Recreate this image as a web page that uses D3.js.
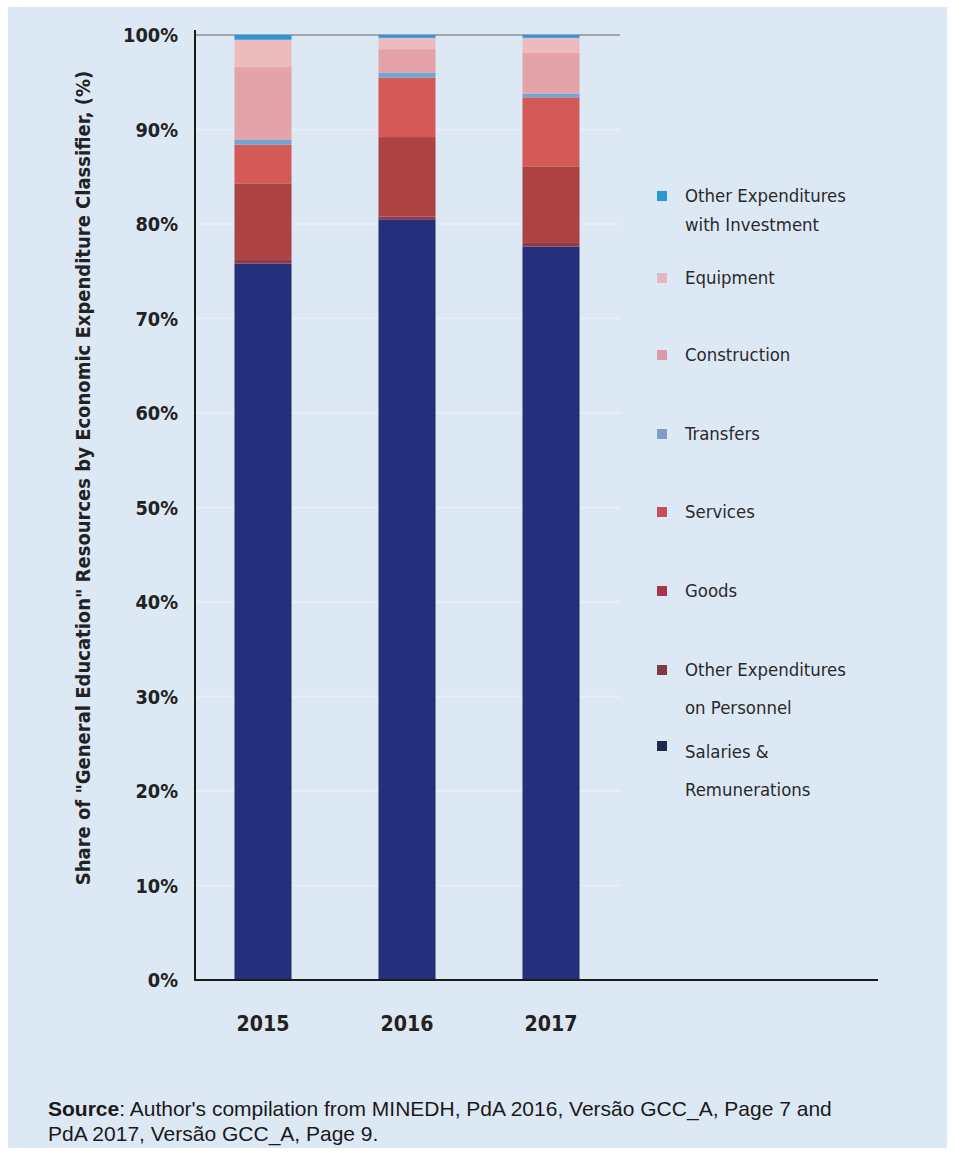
<!DOCTYPE html>
<html><head><meta charset="utf-8">
<script src="https://cdn.jsdelivr.net/npm/d3@7"></script>
<style>body{margin:0;background:#fff} .cond{font-stretch:condensed}</style>
</head><body>
<script>
const years = ["2015", "2016", "2017"];
const seriesNames = ["Salaries & Remunerations","Other Expenditures on Personnel","Goods","Services","Transfers","Construction","Equipment","Other Expenditures with Investment"];
const salaries = [75.8, 80.5, 77.6];
const otherPersonnel = [0.4, 0.3, 0.4];
const goods = [8.1, 8.4, 8.1];
const services = [4.1, 6.3, 7.3];
const transfers = [0.5, 0.5, 0.4];
const construction = [7.7, 2.5, 4.3];
const equipment = [2.9, 1.2, 1.6];
const otherInvestment = [0.5, 0.3, 0.3];
const yTicks = [0,10,20,30,40,50,60,70,80,90,100];
const legendLines = [["Other Expenditures","with Investment"],["Equipment"],["Construction"],["Transfers"],["Services"],["Goods"],["Other Expenditures","on Personnel"],["Salaries &","Remunerations"]];
const colors = ["#25307a","#8e3a48","#ad4243","#d45a57","#6fa6d8","#e3a3a8","#ecbcbc","#2a98d6"];
const legendColors = ["#2a98d6","#e6b7c3","#d99aaa","#7e9cc6","#c84a5e","#a83450","#7e3a48","#1e2b4e"];

const W = 955, H = 1155;
const svg = d3.select("body").append("svg").attr("width", W).attr("height", H);
svg.append("rect").attr("x",0).attr("y",0).attr("width",W).attr("height",H).attr("fill","#fff");
svg.append("rect").attr("x",8).attr("y",7).attr("width",939).attr("height",1141).attr("fill","#dde8f5");

const cond = "'DejaVu Sans Condensed','DejaVu Sans',sans-serif";

const x = d3.scaleBand().domain(years).range([191, 623]).paddingInner(0.604).paddingOuter(0.302);
const y = d3.scaleLinear().domain([0, 100]).range([980, 35]);

// gridlines
svg.append("g").selectAll("line").data(yTicks.filter(t => t > 0 && t < 100)).join("line")
  .attr("x1", 195).attr("x2", 620).attr("y1", d => y(d)).attr("y2", d => y(d))
  .attr("stroke", "#e9f0f8").attr("stroke-width", 1.5);
svg.append("line").attr("x1",195).attr("x2",620).attr("y1",y(100)).attr("y2",y(100))
  .attr("stroke","#8a9098").attr("stroke-width",1.5);

// stacked data
const table = years.map((yr, i) => ({
  year: yr,
  [seriesNames[0]]: salaries[i],
  [seriesNames[1]]: otherPersonnel[i],
  [seriesNames[2]]: goods[i],
  [seriesNames[3]]: services[i],
  [seriesNames[4]]: transfers[i],
  [seriesNames[5]]: construction[i],
  [seriesNames[6]]: equipment[i],
  [seriesNames[7]]: otherInvestment[i]
}));
const stack = d3.stack().keys(seriesNames)(table);
const color = d3.scaleOrdinal().domain(seriesNames).range(colors);

svg.append("g").selectAll("g").data(stack).join("g").attr("fill", d => color(d.key))
  .selectAll("rect").data(d => d).join("rect")
  .attr("x", d => x(d.data.year)).attr("width", x.bandwidth())
  .attr("y", d => y(d[1])).attr("height", d => y(d[0]) - y(d[1]));

// axes
const yAxis = d3.axisLeft(y).tickValues(yTicks).tickFormat(d => d + "%").tickSize(0).tickPadding(17);
const gy = svg.append("g").attr("transform", "translate(195,0)").call(yAxis);
gy.select(".domain").remove();
gy.selectAll("text").attr("class","cond").attr("font-family", cond).attr("font-weight", "bold").attr("font-size", 20).attr("fill", "#222").attr("dy","0.35em");
{
  const t = gy.selectAll("text").filter(d => d === 100).node();
  const w = t.getComputedTextLength();
  gy.selectAll("text").attr("font-size", 20 * 55 / w);
}

const xAxis = d3.axisBottom(x).tickSize(0).tickPadding(36);
const gx = svg.append("g").attr("transform", "translate(0,980)").call(xAxis);
gx.select(".domain").remove();
gx.selectAll("text").attr("class","cond").attr("font-family", cond).attr("font-weight", "bold").attr("font-size", 21).attr("fill", "#222");
{
  const w = gx.select("text").node().getComputedTextLength();
  gx.selectAll("text").attr("font-size", 21 * 53 / w);
}

svg.append("line").attr("x1",195).attr("x2",195).attr("y1",30).attr("y2",981).attr("stroke","#1a1a1a").attr("stroke-width",2);
svg.append("line").attr("x1",194).attr("x2",878).attr("y1",980).attr("y2",980).attr("stroke","#1a1a1a").attr("stroke-width",2);

// y title
const yt = svg.append("text").attr("class","cond").attr("transform","translate(90,478) rotate(-90)")
  .attr("text-anchor","middle").attr("font-family",cond).attr("font-weight","bold")
  .attr("font-size",21).attr("fill","#222")
  .text('Share of "General Education" Resources by Economic Expenditure Classifier, (%)');
{
  const w = yt.node().getComputedTextLength();
  yt.attr("font-size", 21 * 815 / w);
}

// legend
const legendY = [196, 278, 355, 434, 512, 591, 670, 752];
const lineGap = [29, 0, 0, 0, 0, 0, 38, 38];
const lg = svg.append("g");
legendLines.forEach((lines, i) => {
  lg.append("rect").attr("x", 657).attr("y", legendY[i] - 5 - (i === 7 ? 6 : 0)).attr("width", 10).attr("height", 10).attr("fill", legendColors[i]);
  lines.forEach((t, j) => {
    lg.append("text").attr("class","cond").attr("x", 685).attr("y", legendY[i] + j * lineGap[i]).attr("dy","0.35em")
      .attr("font-family", cond).attr("font-size", 21).attr("fill", "#2a2a2a").text(t);
  });
});
{
  const w = lg.select("text").node().getComputedTextLength();
  lg.selectAll("text").attr("font-size", 21 * 161 / w);
}

// source
const sf = "'Liberation Sans',Arial,sans-serif";
const src = svg.append("text").attr("x", 48).attr("y", 1116).attr("font-family",sf).attr("font-size",17).attr("fill","#1a1a1a");
src.append("tspan").attr("font-weight","bold").text("Source");
src.append("tspan").text(": Author's compilation from MINEDH, PdA 2016, Versão GCC_A, Page 7 and");
let fs;
{
  const w = src.node().getComputedTextLength();
  fs = Math.min(21, 17 * 807 / w);
  src.attr("font-size", fs);
}
svg.append("text").attr("x", 48).attr("y", 1141).attr("font-family",sf).attr("font-size", fs).attr("fill","#1a1a1a")
  .text("PdA 2017, Versão GCC_A, Page 9.");
</script>
</body></html>
